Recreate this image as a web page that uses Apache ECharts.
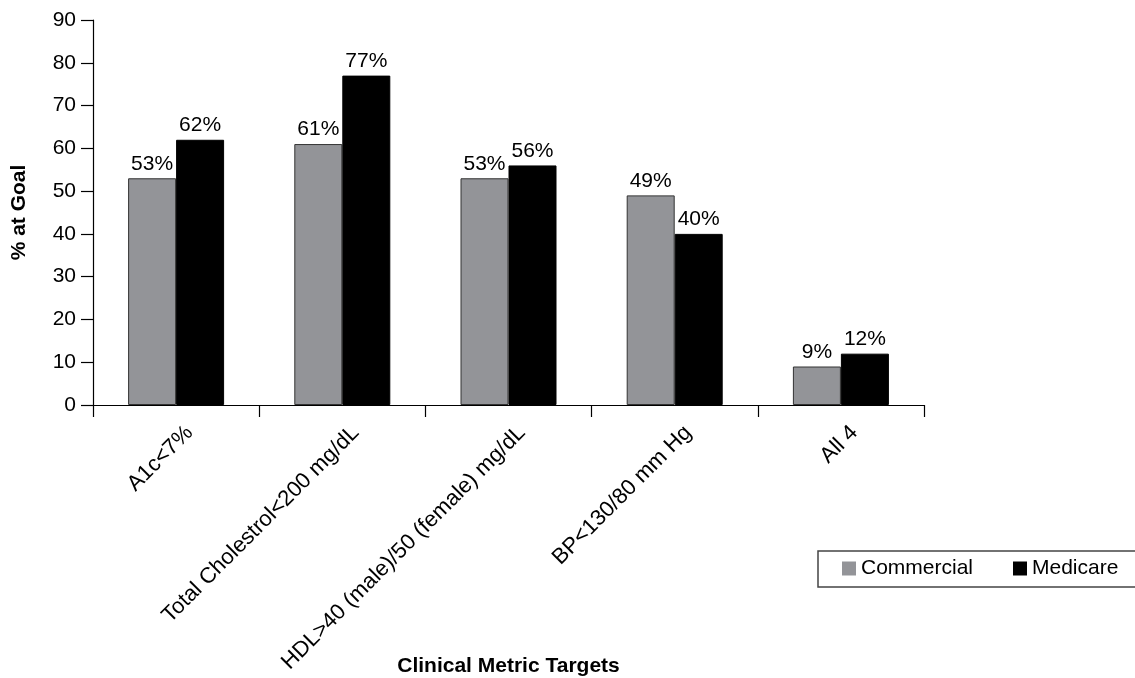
<!DOCTYPE html>
<html>
<head>
<meta charset="utf-8">
<script src="https://cdn.jsdelivr.net/npm/echarts@6/dist/echarts.min.js"></script>
<style>
  html, body { margin: 0; padding: 0; background: #fff; }
  #chart { width: 1135px; height: 678px; }
</style>
</head>
<body>
<div id="chart"></div>
<script>
// Share of patients reaching each clinical goal, by payer
const categories = [
  'A1c<7%',
  'Total Cholestrol<200 mg/dL',
  'HDL>40 (male)/50 (female) mg/dL',
  'BP<130/80 mm Hg',
  'All 4'
];
const commercial = [53, 61, 53, 49, 9];
const medicare = [62, 77, 56, 40, 12];
const yTicks = { min: 0, max: 90, interval: 10 };

const FONT = "'Liberation Sans', Arial, Helvetica, sans-serif";

const chart = echarts.init(document.getElementById('chart'), null, { renderer: 'canvas' });

const valueLabel = {
  show: true,
  position: 'top',
  distance: 4,
  formatter: '{c}%',
  color: '#000',
  fontFamily: FONT,
  fontSize: 21
};

chart.setOption({
  animation: false,
  backgroundColor: '#fff',
  textStyle: { fontFamily: FONT },
  grid: {
    left: 93, right: 211, top: 20, bottom: 273,
    containLabel: false,
    outerBoundsMode: 'none'
  },
  legend: {
    left: 842,
    top: 558,
    padding: 0,
    icon: 'rect',
    itemWidth: 14,
    itemHeight: 14,
    itemGap: 40,
    itemStyle: { borderWidth: 0 },
    textStyle: { fontFamily: FONT, fontSize: 21, color: '#000' },
    data: ['Commercial', 'Medicare']
  },
  graphic: [{
    type: 'rect',
    shape: { x: 818, y: 551, width: 400, height: 36 },
    style: { fill: 'none', stroke: '#444', lineWidth: 1.5 },
    silent: true
  }],
  xAxis: {
    type: 'category',
    data: categories,
    name: 'Clinical Metric Targets',
    nameLocation: 'middle',
    nameGap: 251,
    nameMoveOverlap: false,
    nameTextStyle: { fontFamily: FONT, fontSize: 21, fontWeight: 'bold', color: '#000' },
    axisLine: { lineStyle: { color: '#000', width: 1.2 } },
    axisTick: { show: true, length: 12, alignWithLabel: false, lineStyle: { color: '#000', width: 1.2 } },
    axisLabel: {
      interval: 0,
      rotate: 45,
      margin: 11,
      verticalAlign: 'top',
      padding: [8, 0, 0, 0],
      color: '#000',
      fontFamily: FONT,
      fontSize: 22
    },
    splitLine: { show: false }
  },
  yAxis: {
    type: 'value',
    min: yTicks.min,
    max: yTicks.max,
    interval: yTicks.interval,
    name: '% at Goal',
    nameLocation: 'middle',
    nameRotate: 90,
    nameGap: 63,
    nameTextStyle: { fontFamily: FONT, fontSize: 21, fontWeight: 'bold', color: '#000' },
    axisLine: { show: true, lineStyle: { color: '#000', width: 1.2 } },
    axisTick: { show: true, length: 12, lineStyle: { color: '#000', width: 1.2 } },
    axisLabel: { margin: 17, color: '#000', fontFamily: FONT, fontSize: 21 },
    splitLine: { show: false }
  },
  series: [
    {
      name: 'Commercial',
      type: 'bar',
      data: commercial,
      barWidth: 48,
      barGap: '0%',
      itemStyle: { color: '#939498', borderColor: '#333', borderWidth: 1 },
      label: valueLabel
    },
    {
      name: 'Medicare',
      type: 'bar',
      data: medicare,
      barWidth: 48,
      itemStyle: { color: '#000', borderColor: '#000', borderWidth: 1 },
      label: valueLabel
    }
  ]
});
</script>
</body>
</html>
